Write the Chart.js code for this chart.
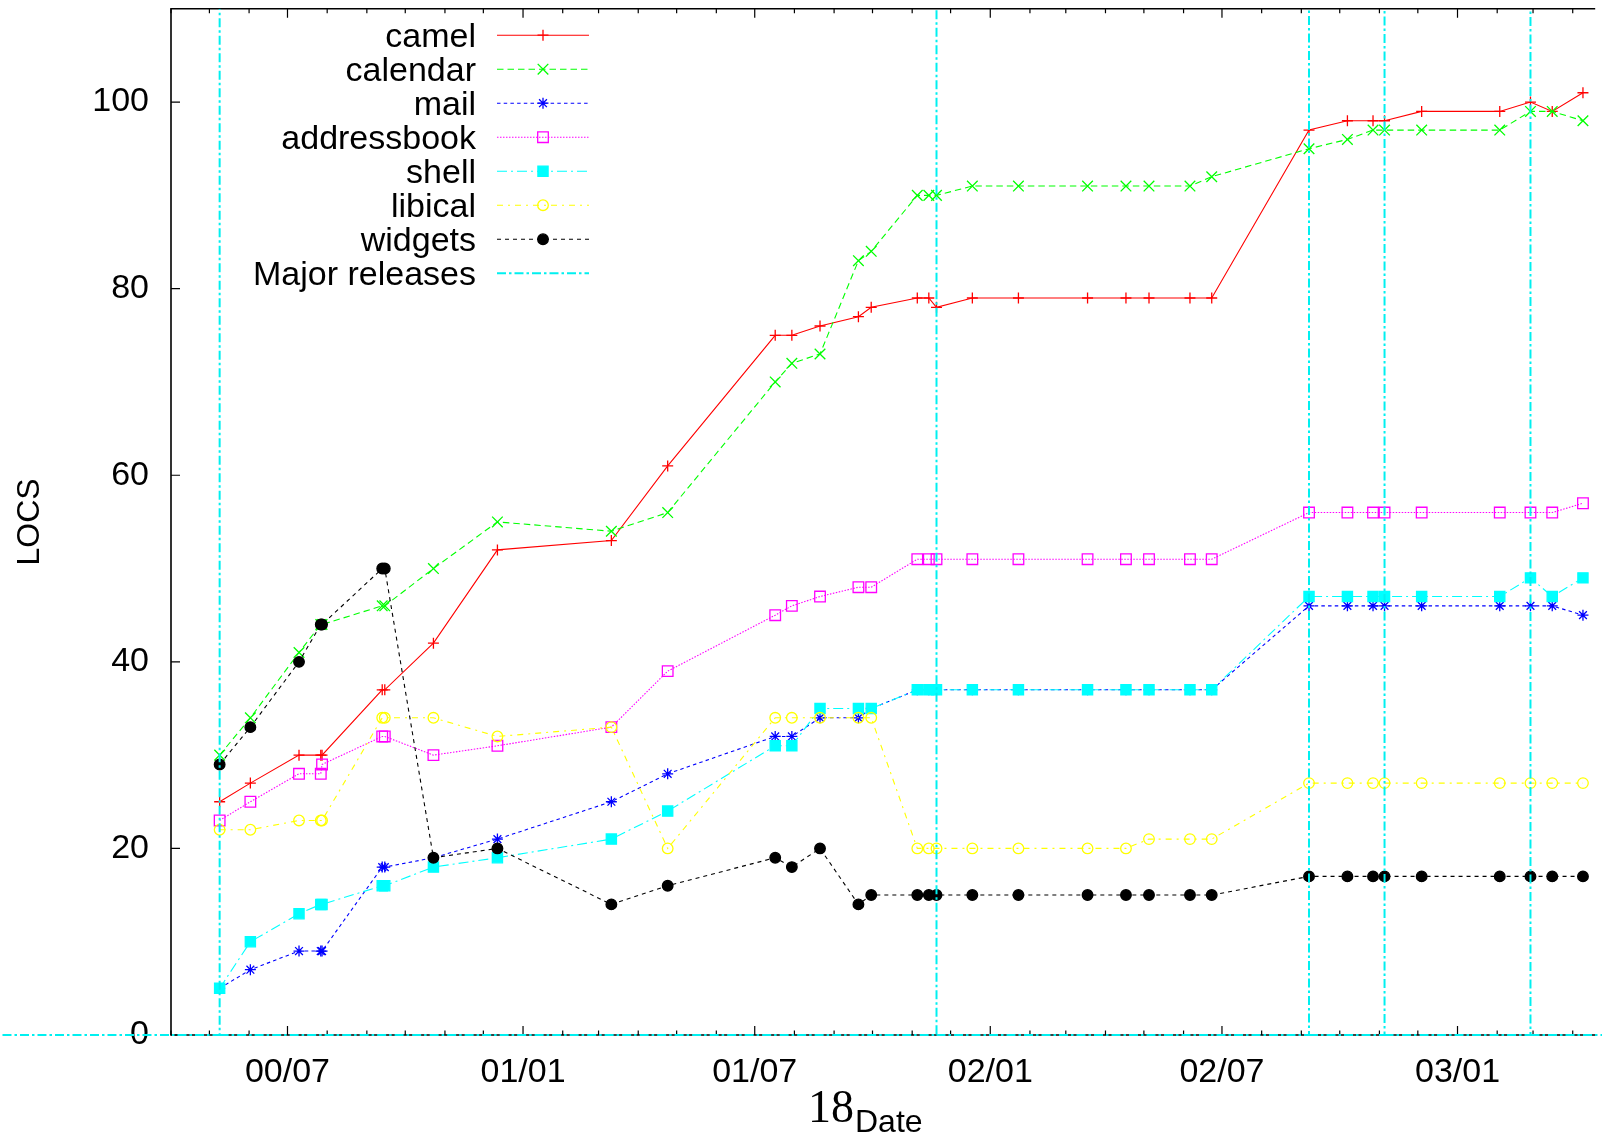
<!DOCTYPE html>
<html>
<head>
<meta charset="utf-8">
<script src="https://cdn.jsdelivr.net/npm/chart.js@4/dist/chart.umd.min.js"></script>
<style>
  html, body { margin: 0; padding: 0; background: #fff; overflow: hidden; }
  canvas { display: block; }
</style>
</head>
<body>
<canvas id="chart" width="1602" height="1137"></canvas>
<script>
// Snapshot dates of the source tree
const dates = [
  '2000-05-09', '2000-06-02', '2000-07-10', '2000-07-27', '2000-07-28',
  '2000-09-13', '2000-09-15', '2000-10-23', '2000-12-12', '2001-03-11',
  '2001-04-24', '2001-07-17', '2001-07-30', '2001-08-21', '2001-09-20',
  '2001-09-30', '2001-11-05', '2001-11-14', '2001-11-20', '2001-12-18',
  '2002-01-23', '2002-03-18', '2002-04-17', '2002-05-05', '2002-06-06',
  '2002-06-23', '2002-09-07', '2002-10-07', '2002-10-27', '2002-11-05',
  '2002-12-04', '2003-02-03', '2003-02-27', '2003-03-16', '2003-04-09'
];

// Lines of code per component (thousands)
const camel       = [25, 27, 30, 30, 30, 37, 37, 42, 52, 53, 61, 75, 75, 76, 77, 78, 79, 79, 78, 79, 79, 79, 79, 79, 79, 79, 97, 98, 98, 98, 99, 99, 100, 99, 101];
const calendar    = [30, 34, 41, 44, 44, 46, 46, 50, 55, 54, 56, 70, 72, 73, 83, 84, 90, 90, 90, 91, 91, 91, 91, 91, 91, 92, 95, 96, 97, 97, 97, 97, 99, 99, 98];
const mail        = [5, 7, 9, 9, 9, 18, 18, 19, 21, 25, 28, 32, 32, 34, 34, 35, 37, 37, 37, 37, 37, 37, 37, 37, 37, 37, 46, 46, 46, 46, 46, 46, 46, 46, 45];
const addressbook = [23, 25, 28, 28, 29, 32, 32, 30, 31, 33, 39, 45, 46, 47, 48, 48, 51, 51, 51, 51, 51, 51, 51, 51, 51, 51, 56, 56, 56, 56, 56, 56, 56, 56, 57];
const shell       = [5, 10, 13, 14, 14, 16, 16, 18, 19, 21, 24, 31, 31, 35, 35, 35, 37, 37, 37, 37, 37, 37, 37, 37, 37, 37, 47, 47, 47, 47, 47, 47, 49, 47, 49];
const libical     = [22, 22, 23, 23, 23, 34, 34, 34, 32, 33, 20, 34, 34, 34, 34, 34, 20, 20, 20, 20, 20, 20, 20, 21, 21, 21, 27, 27, 27, 27, 27, 27, 27, 27, 27];
const widgets     = [29, 33, 40, 44, 44, 50, 50, 19, 20, 14, 16, 19, 18, 20, 14, 15, 15, 15, 15, 15, 15, 15, 15, 15, 15, 15, 17, 17, 17, 17, 17, 17, 17, 17, 17];

// Major release dates
const releases = ['2000-05-09', '2001-11-20', '2002-09-07', '2002-11-05', '2003-02-27'];

// Axis ticks
const yTicks = [0, 20, 40, 60, 80, 100];
const xTickDates  = ['2000-07-01', '2001-01-01', '2001-07-01', '2002-01-01', '2002-07-01', '2003-01-01'];
const xTickLabels = ['00/07', '01/01', '01/07', '02/01', '02/07', '03/01'];
const xRange = ['2000-04-01', '2003-04-17'];
const yRange = [0, 110];

const day = s => Date.parse(s) / 86400000;
const xMin = day(xRange[0]);
const xMax = day(xRange[1]);
const labelByDay = new Map(xTickDates.map((d, i) => [day(d), xTickLabels[i]]));

// Monthly tick positions across the x range
function monthTicks() {
  const out = [];
  const start = new Date(xMin * 86400000);
  let yr = start.getUTCFullYear(), mo = start.getUTCMonth();
  for (;;) {
    const v = Date.UTC(yr, mo, 1) / 86400000;
    if (v > xMax) break;
    if (v >= xMin) out.push({ value: v });
    mo++; if (mo > 11) { mo = 0; yr++; }
  }
  return out;
}

const toPoints = vals => vals.map((v, i) => ({ x: day(dates[i]), y: v }));

// Vertical markers joined along the zero line
function releasePoints() {
  const pts = [{ x: xMin - 200, y: 0 }];
  releases.forEach(r => {
    const x = day(r);
    pts.push({ x, y: 0 }, { x, y: yRange[1] }, { x, y: null }, { x, y: 0 });
  });
  pts.push({ x: xMax + 50, y: 0 });
  return pts;
}

const FONT = '"Liberation Sans", Arial, sans-serif';

const series = [
  { label: 'camel',       data: camel,       color: '#ff0000', dash: [],            style: 'cross',    r: 5.5, fill: false },
  { label: 'calendar',    data: calendar,    color: '#00ff00', dash: [6.5, 4],      style: 'crossRot', r: 7.5, fill: false },
  { label: 'mail',        data: mail,        color: '#0000ff', dash: [3.5, 3.2],    style: 'star',     r: 5.5, fill: false },
  { label: 'addressbook', data: addressbook, color: '#ff00ff', dash: [1.5, 1.5],    style: 'rect',     r: 7.5, fill: false },
  { label: 'shell',       data: shell,       color: '#00ffff', dash: [10, 4, 2, 4], style: 'rect',     r: 7.2, fill: true },
  { label: 'libical',     data: libical,     color: '#ffff00', dash: [6, 5, 2, 5],  style: 'circle',   r: 5.3, fill: false },
  { label: 'widgets',     data: widgets,     color: '#000000', dash: [4, 4],        style: 'circle',   r: 5.3, fill: true }
];

const datasets = series.map((s, i) => ({
  label: s.label,
  data: toPoints(s.data),
  borderColor: s.color,
  borderWidth: 1.1,
  borderDash: s.dash,
  pointStyle: s.style,
  pointRadius: s.r,
  pointBorderWidth: 1.3,
  pointBorderColor: s.color,
  pointBackgroundColor: s.fill ? s.color : 'rgba(0,0,0,0)',
  tension: 0,
  order: -i
}));

datasets.push({
  label: 'Major releases',
  data: releasePoints(),
  borderColor: '#00f0f0',
  borderWidth: 2,
  borderDash: [9, 3, 2.5, 3],
  pointRadius: 0,
  spanGaps: false,
  clip: { left: false, top: 0, right: false, bottom: 3 },
  order: -series.length
});

// Frame, inward ticks, key and x title
const framePlugin = {
  id: 'frame',
  beforeDatasetsDraw(chart) {
    const { ctx, chartArea: a, scales: { x, y } } = chart;
    ctx.save();
    ctx.strokeStyle = '#000';
    ctx.lineWidth = 1.6;
    ctx.beginPath();
    ctx.moveTo(a.right + 2, a.top);
    ctx.lineTo(a.left, a.top);
    ctx.lineTo(a.left, a.bottom);
    ctx.lineTo(a.right + 2, a.bottom);
    ctx.stroke();
    ctx.lineWidth = 1.2;
    ctx.beginPath();
    y.ticks.forEach(t => {
      const py = y.getPixelForValue(t.value);
      ctx.moveTo(a.left, py); ctx.lineTo(a.left + 9, py);
    });
    x.ticks.forEach(t => {
      const px = x.getPixelForValue(t.value);
      const len = labelByDay.has(t.value) ? 9 : 4.5;
      ctx.moveTo(px, a.bottom); ctx.lineTo(px, a.bottom - len);
      ctx.moveTo(px, a.top); ctx.lineTo(px, a.top + len);
    });
    ctx.stroke();
    ctx.restore();
  },
  afterDraw(chart) {
    const { ctx } = chart;
    ctx.save();
    // key
    const textRight = 476, lineL = 497, lineR = 589, markX = 543;
    chart.data.datasets.forEach((ds, i) => {
      const yy = 35.2 + 34 * i;
      ctx.fillStyle = '#000';
      ctx.font = '34px ' + FONT;
      ctx.textAlign = 'right';
      ctx.textBaseline = 'middle';
      ctx.fillText(ds.label, textRight, yy + 2);
      ctx.strokeStyle = ds.borderColor;
      ctx.lineWidth = ds.borderWidth;
      ctx.setLineDash(ds.borderDash || []);
      ctx.beginPath();
      ctx.moveTo(lineL, yy); ctx.lineTo(lineR, yy);
      ctx.stroke();
      ctx.setLineDash([]);
      if (ds.pointRadius > 0) {
        ctx.strokeStyle = ds.pointBorderColor;
        ctx.fillStyle = ds.pointBackgroundColor;
        ctx.lineWidth = ds.pointBorderWidth;
        Chart.helpers.drawPoint(ctx, {
          pointStyle: ds.pointStyle, radius: ds.pointRadius,
          borderWidth: ds.pointBorderWidth, rotation: 0
        }, markX, yy);
      }
    });
    // x axis title
    ctx.fillStyle = '#000';
    ctx.textAlign = 'left';
    ctx.textBaseline = 'alphabetic';
    ctx.font = '46px "Liberation Serif", "Times New Roman", serif';
    ctx.fillText('18', 808, 1121.7);
    ctx.font = '32px ' + FONT;
    ctx.fillText('Date', 855, 1131.7);
    ctx.restore();
  }
};

new Chart(document.getElementById('chart'), {
  type: 'line',
  data: { datasets },
  options: {
    responsive: false,
    devicePixelRatio: 1,
    animation: false,
    events: [],
    layout: { padding: { top: 8, right: 0, bottom: 0, left: 0 } },
    plugins: { legend: { display: false }, tooltip: { enabled: false } },
    scales: {
      x: {
        type: 'linear',
        min: xMin,
        max: xMax,
        grid: { display: false, drawTicks: false },
        border: { display: false },
        afterBuildTicks: s => { s.ticks = monthTicks(); },
        afterFit: s => { s.height = 102; s.paddingLeft = 0; s.paddingRight = 0; },
        ticks: {
          autoSkip: false,
          maxRotation: 0,
          minRotation: 0,
          padding: 17,
          color: '#000',
          font: { family: FONT, size: 34 },
          callback: v => labelByDay.get(v) || ''
        }
      },
      y: {
        type: 'linear',
        min: yRange[0],
        max: yRange[1],
        grid: { display: false, drawTicks: false },
        border: { display: false },
        afterBuildTicks: s => { s.ticks = yTicks.map(v => ({ value: v })); },
        afterFit: s => { s.width = 171; s.paddingTop = 0; s.paddingBottom = 0; },
        ticks: {
          padding: 22,
          color: '#000',
          font: { family: FONT, size: 34 }
        },
        title: {
          display: true,
          text: 'LOCS',
          color: '#000',
          font: { family: FONT, size: 32 },
          padding: { top: 11, bottom: 0 }
        }
      }
    }
  },
  plugins: [framePlugin]
});
</script>
</body>
</html>
